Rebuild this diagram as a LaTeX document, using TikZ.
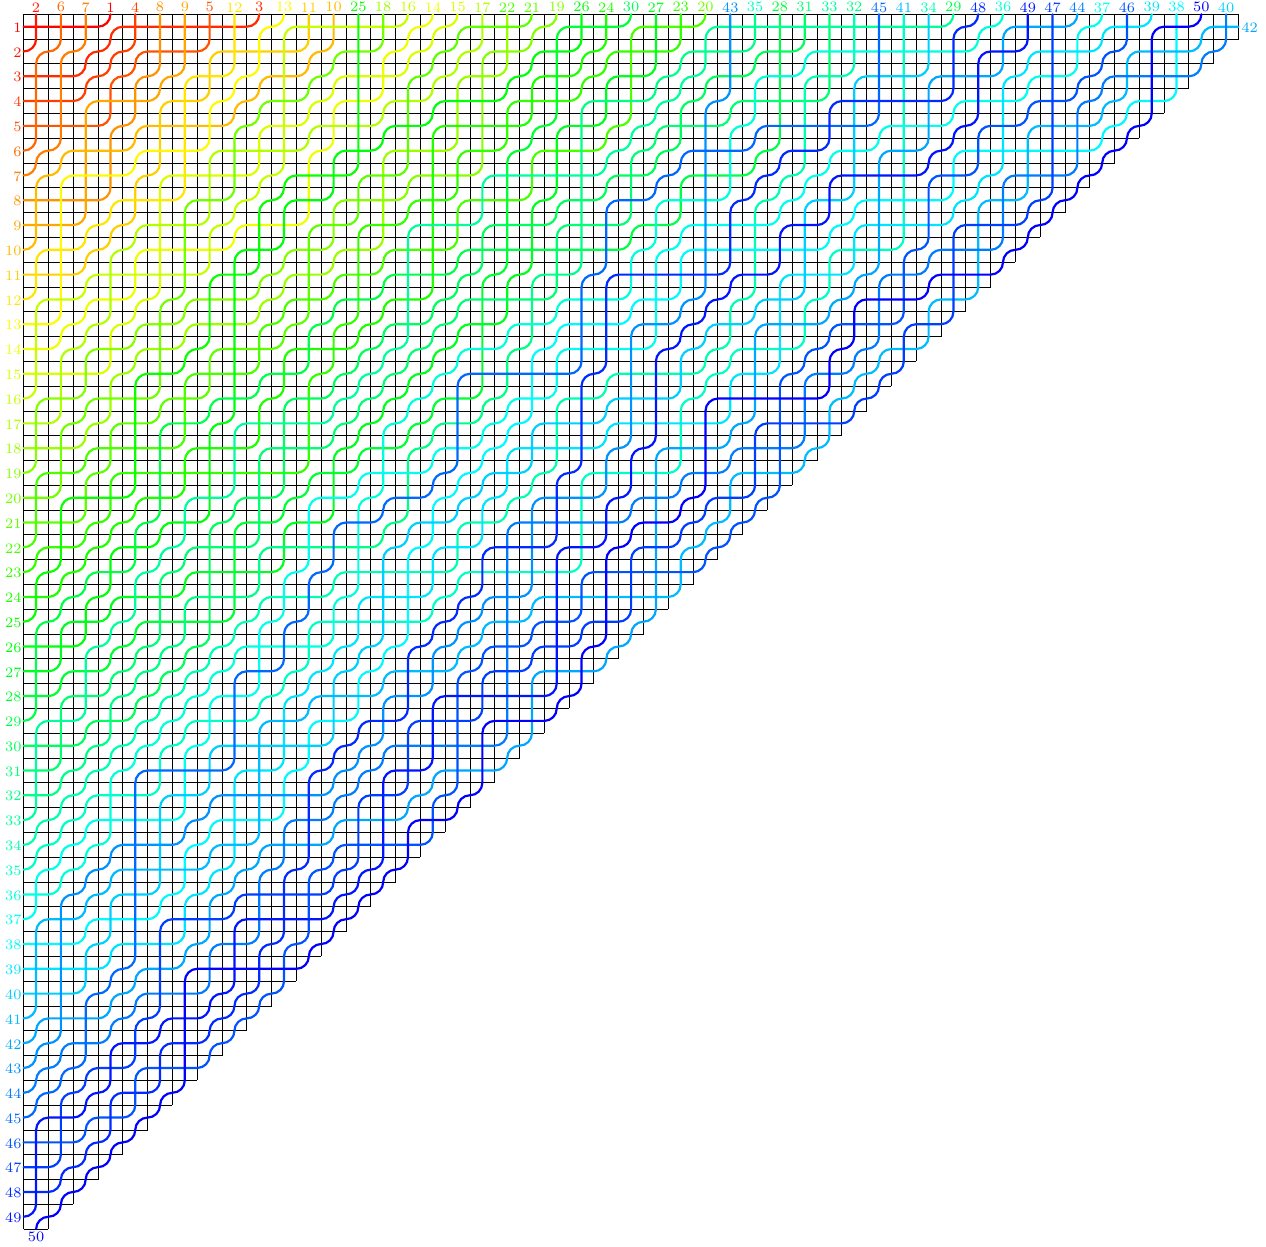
\documentclass[tikz,border=0pt]{standalone}
\newcount\Ri \newcount\Cj \newcount\Dr
\def\rowscan#1{\ifx#1\relax\else\advance\Cj by1 \expandafter\xdef\csname pd\the\Ri-\the\Cj\endcsname{#1}\expandafter\rowscan\fi}
\def\setrow#1#2{\Cj=0 \Ri=#1 \rowscan#2\relax}
\setrow{1}{111011111001 1110001100110110 1111111110001100 10101}
\setrow{2}{000001101110 0100000101001101 1010111111010110 0110}
\setrow{3}{110000010010 0110001001001000 1010101101100100 111}
\setrow{4}{110110100010 0101011011011000 0111011110110100 01}
\setrow{5}{111001110010 1101011100100011 0011110110010110 0}
\setrow{6}{001101101110 0101101001100001 1001010100111110}
\setrow{7}{001100111001 1010110111101001 100001110100110}
\setrow{8}{111011010001 0110101100101011 00001011100100}
\setrow{9}{110001100110 1010110110110101 1101001110110}
\setrow{10}{010001110101 0101101111110001 111101100110}
\setrow{11}{110111101001 0101100001001111 01011001011}
\setrow{12}{010100011001 0101001110110100 0010001101}
\setrow{13}{100001011000 0001001010110100 101101101}
\setrow{14}{100101001101 1000001000111000 01100001}
\setrow{15}{111001011010 0000001111001110 0100100}
\setrow{16}{010110101001 0000010010101100 111100}
\setrow{17}{1000101001110000 0100011011110011 1}
\setrow{18}{1101110110110010 0100111000110110}
\setrow{19}{0100111111101011 000100011101011}
\setrow{20}{1011010101001001 00000110010010}
\setrow{21}{1100001001010100 1010111101000}
\setrow{22}{0100100110111100 010110100100}
\setrow{23}{0001000111000111 10111101111}
\setrow{24}{1000110110110011 0001011111}
\setrow{25}{0010011100001111 000101010}
\setrow{26}{1100000001110000 00010100}
\setrow{27}{1010000001000001 1001011}
\setrow{28}{1010000010001101 011110}
\setrow{29}{0101000110101010 11011}
\setrow{30}{1100000011110001 1110}
\setrow{31}{1000011101000001 011}
\setrow{32}{1001101011110010 00}
\setrow{33}{0001110011010110 1}
\setrow{34}{0000110010110111}
\setrow{35}{000011100000000}
\setrow{36}{10001000011100}
\setrow{37}{0101101101110}
\setrow{38}{110011001000}
\setrow{39}{11100101111}
\setrow{40}{1100011000}
\setrow{41}{011000100}
\setrow{42}{00101010}
\setrow{43}{0001011}
\setrow{44}{000010}
\setrow{45}{01010}
\setrow{46}{1100}
\setrow{47}{100}
\setrow{48}{10}
\setrow{49}{0}
\def\N#1{\the\numexpr#1\relax}
\def\onestep{%
  \edef\X{\N{200*\Cj}}\edef\Y{\N{200*\Ri}}%
  \ifnum\numexpr\Ri+\Cj\relax=51 \def\V{0}\else\edef\V{\csname pd\the\Ri-\the\Cj\endcsname}\fi
  \ifnum\Dr=0
    \ifnum\V=1
      \edef\pth{\pth -- (\N{\X+100},\Y)}\advance\Cj by1
    \else
      \edef\pth{\pth .. controls (\N{\X-45},\Y) and (\X,\N{\Y-45}) .. (\X,\N{\Y-100})}\advance\Ri by-1 \Dr=1
    \fi
  \else
    \ifnum\V=1
      \edef\pth{\pth -- (\X,\N{\Y-100})}\advance\Ri by-1
    \else
      \edef\pth{\pth .. controls (\X,\N{\Y+45}) and (\N{\X+45},\Y) .. (\N{\X+100},\Y)}\advance\Cj by1 \Dr=0
    \fi
  \fi}
\def\tstep{\ifnum\Ri=0 \let\nxt\relax\else\ifnum\Cj=50 \let\nxt\relax\else\onestep\let\nxt\tstep\fi\fi\nxt}
\def\tracepipe#1{%
  \ifnum#1<50 \Ri=#1 \Cj=1 \Dr=0 \edef\pth{(100,\N{200*#1})}%
  \else \Ri=49 \Cj=1 \Dr=1 \edef\pth{(200,9900)}\fi
  \tstep}
\def\pipecolor#1{%
  \pgfmathsetmacro\hh{(#1-1)/49*240}%
  \pgfmathsetmacro\rr{\hh<60 ? 1 : (\hh<120 ? (120-\hh)/60 : 0)}%
  \pgfmathsetmacro\gg{\hh<60 ? \hh/60 : (\hh<180 ? 1 : (240-\hh)/60)}%
  \pgfmathsetmacro\bb{\hh<120 ? 0 : (\hh<180 ? (\hh-120)/60 : 1)}%
  \definecolor{pc}{rgb}{\rr,\gg,\bb}}
\tikzset{gridline/.style={black,line width=0.45pt},
  pipeline/.style={line width=1.1pt,line cap=round},
  lab/.style={inner sep=0pt,font=\fontsize{7.2}{8}\selectfont}}
\begin{document}
\begin{tikzpicture}
\useasboundingbox (0,0) rectangle (633pt,-623.5pt);
\begin{scope}[shift={(5.65pt,-0.95pt)},x=0.061975pt,y=-0.061975pt]
\foreach \k in {0,...,49}{
  \pgfmathtruncatemacro\ee{\k==0 ? 9900 : 200*(50-\k)+100}
  \pgfmathtruncatemacro\cc{200*\k+100}
  \coordinate (ha\k) at (100,\cc); \coordinate (hb\k) at (\ee,\cc);
  \coordinate (va\k) at (\cc,100); \coordinate (vb\k) at (\cc,\ee);
  \draw[gridline] (ha\k) -- (hb\k);
  \draw[gridline] (va\k) -- (vb\k);
}
\foreach \p in {1,...,50}{
  \pipecolor{\p}
  \tracepipe{\p}
  \draw[pipeline,pc] \pth;
}
\foreach \j/\p in {1/2,2/6,3/7,4/1,5/4,6/8,7/9,8/5,9/12,10/3,11/13,12/11,13/10,14/25,15/18,16/16,17/14,18/15,19/17,20/22,21/21,22/19,23/26,24/24,25/30,26/27,27/23,28/20,29/43,30/35,31/28,32/31,33/33,34/32,35/45,36/41,37/34,38/29,39/48,40/36,41/49,42/47,43/44,44/37,45/46,46/39,47/38,48/50,49/40,50/42}{
  \pipecolor{\p}
  \ifnum\j<50
    \pgfmathtruncatemacro\xx{200*\j}
    \node[lab,text=pc] (t\j) at (\xx,44) {\p};
  \else
    \node[lab,text=pc,anchor=west] (t\j) at (9921,208) {\p};
  \fi
}
\foreach \p in {1,...,49}{
  \pipecolor{\p}
  \pgfmathtruncatemacro\yy{200*\p+8}
  \node[lab,text=pc,anchor=east] (l\p) at (86,\yy) {\p};
}
\pipecolor{50}
\node[lab,text=pc] (l50) at (200,9964) {50};
\end{scope}
\end{tikzpicture}
\end{document}
